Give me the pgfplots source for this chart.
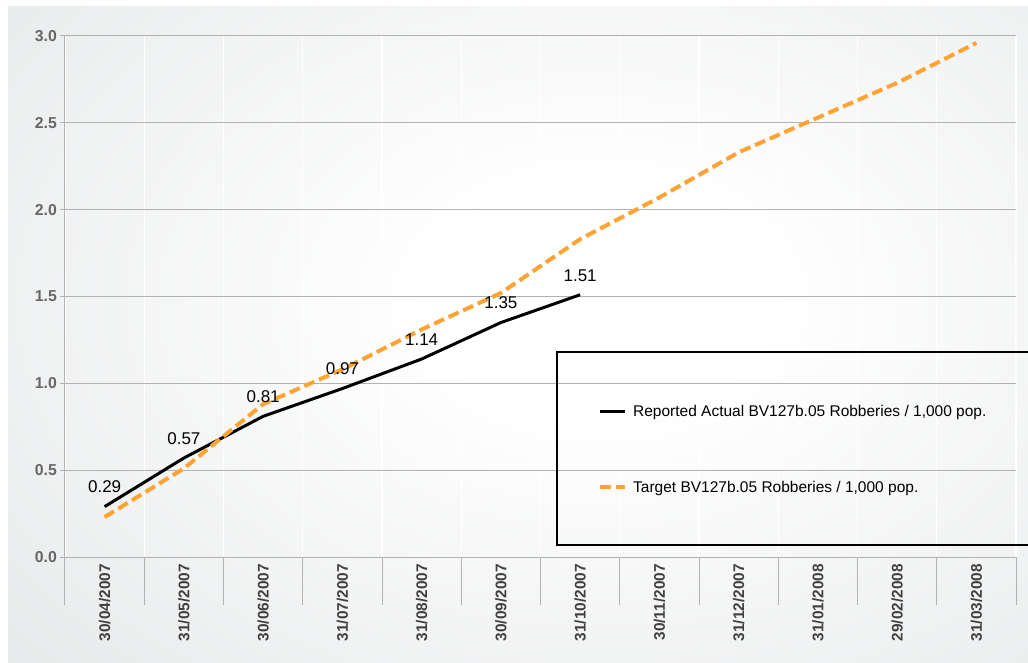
\documentclass[border=0pt]{standalone}
\usepackage{pgfplots}
\pgfplotsset{compat=1.18}
\usepackage{fontspec}
\setmainfont{Liberation Sans}

\definecolor{bggray}{RGB}{226,228,229}
\definecolor{gridgray}{RGB}{178,178,178}
\definecolor{target}{RGB}{255,163,51}
\definecolor{ylab}{RGB}{102,102,102}
\definecolor{xlab}{RGB}{64,64,64}

% soft white glow fading to grey towards the edges
\pgfdeclareradialshading{glow}{\pgfpoint{0bp}{0bp}}{%
  color(0bp)=(white); color(6bp)=(white); color(34bp)=(bggray); color(50bp)=(bggray)}

\begin{document}
\begin{tikzpicture}[x=1pt,y=1pt]
\fill[white] (0,0) rectangle (1028,662);
\begin{scope}
  \clip (8,0) rectangle (1028,655);
  \shade[shading=glow] (-100,-118) rectangle (1300,842);
\end{scope}

\begin{axis}[
  at={(65pt,105pt)}, anchor=south west,
  scale only axis, width=951pt, height=521pt,
  xmin=-0.5, xmax=11.5, ymin=0, ymax=3,
  axis x line=bottom, axis y line=left,
  axis line style={-, draw=gridgray, line width=1pt},
  tick align=outside,
  major tick length=5pt,
  minor tick length=48pt,
  xtick={0,...,11},
  xticklabels={30/04/2007,31/05/2007,30/06/2007,31/07/2007,31/08/2007,30/09/2007,31/10/2007,30/11/2007,31/12/2007,31/01/2008,29/02/2008,31/03/2008},
  major x tick style={draw=none},
  minor xtick={-0.5,0.5,...,11.5},
  minor tick style={draw=gridgray, line width=1pt},
  major tick style={draw=gridgray, line width=1pt},
  xticklabel style={rotate=90, anchor=east, inner sep=2pt,
    font=\bfseries\fontsize{15.4}{16}\selectfont, text=xlab},
  ytick={0,0.5,1,1.5,2,2.5,3},
  yticklabels={0.0,0.5,1.0,1.5,2.0,2.5,3.0},
  yticklabel style={font=\bfseries\fontsize{15.8}{16}\selectfont, text=ylab, inner sep=3pt},
  ymajorgrids, xminorgrids,
  major grid style={draw=gridgray, line width=1pt},
  minor grid style={draw=white, line width=1.2pt},
  legend style={at={(rel axis cs:0.5604,0.2917)}, anchor=north west,
    draw=none, fill=none, inner sep=0pt, row sep=63pt, column sep=6pt,
    nodes={inner sep=0pt, font=\fontsize{15.5}{16}\selectfont}},
  legend cell align=left,
  legend image code/.code={\draw[#1] (0pt,0pt) -- (25pt,0pt);},
]
\addplot[black, line width=3pt, line join=round,
  nodes near coords={\pgfmathprintnumber[fixed,fixed zerofill,precision=2,assume math mode=true]{\pgfplotspointmeta}},
  nodes near coords style={anchor=south, inner sep=0pt, yshift=12pt,
    font=\fontsize{17}{17}\selectfont, text=black, solid}]
  table {
  x y
  0 0.29
  1 0.57
  2 0.81
  3 0.97
  4 1.14
  5 1.35
  6 1.51
};
\addlegendentry{Reported Actual BV127b.05 Robberies / 1,000 pop.}

\addplot[target, line width=4pt, dash pattern=on 11pt off 5pt, line join=round]
  table {
  x y
  0 0.23
  1 0.51
  2 0.88
  3 1.08
  4 1.31
  5 1.52
  6 1.83
  7 2.07
  8 2.33
  9 2.53
  10 2.73
  11 2.96
};
\addlegendentry{Target BV127b.05 Robberies / 1,000 pop.}
\end{axis}

\draw[black, line width=2.5pt] (557,117) rectangle (1040,310);

% page size
\pgfresetboundingbox
\path[use as bounding box] (0,0) rectangle (1028,662);
\end{tikzpicture}
\end{document}
